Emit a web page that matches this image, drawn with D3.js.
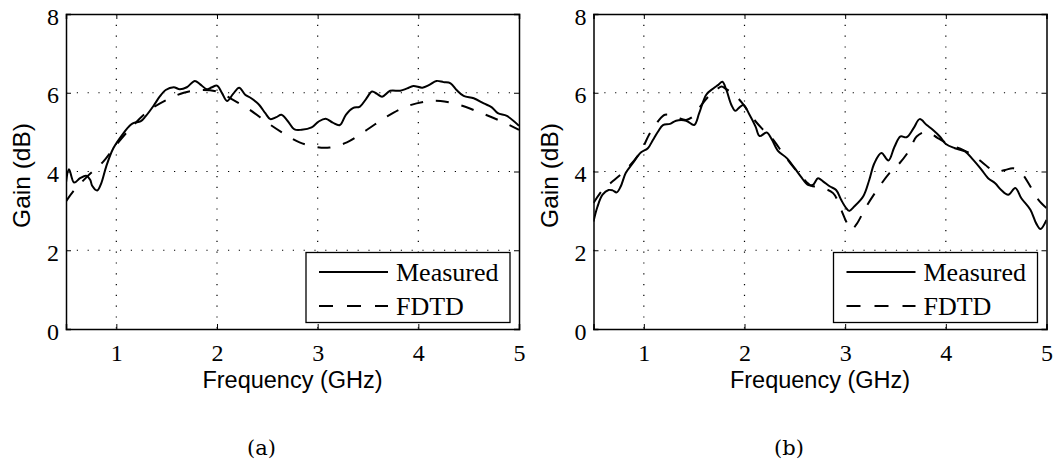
<!DOCTYPE html>
<html>
<head>
<meta charset="utf-8">
<script src="https://cdn.jsdelivr.net/npm/d3@7"></script>
<style>
  body { margin: 0; background: #fff; }
  svg { display: block; }
</style>
</head>
<body>
<div id="chart"></div>
<script>
// ticks
const xTicks = [1, 2, 3, 4, 5]
const yTicks = [0, 2, 4, 6, 8]

// panel (a) measured
const measFreqA = [0.5, 0.53, 0.58, 0.64, 0.70, 0.74, 0.76, 0.81, 0.85, 0.90, 0.97, 1.07, 1.14, 1.18, 1.24, 1.29, 1.37, 1.43, 1.49, 1.57, 1.63, 1.70, 1.78, 1.83, 1.90, 1.95, 2.00, 2.05, 2.10, 2.16, 2.22, 2.28, 2.34, 2.42, 2.48, 2.53, 2.59, 2.64, 2.70, 2.77, 2.84, 2.94, 3.01, 3.08, 3.15, 3.22, 3.28, 3.35, 3.42, 3.48, 3.54, 3.59, 3.64, 3.72, 3.82, 3.89, 3.95, 4.04, 4.11, 4.18, 4.25, 4.32, 4.38, 4.45, 4.55, 4.65, 4.73, 4.79, 4.88, 5.0]
const measGainA = [3.72, 4.06, 3.72, 3.83, 3.89, 3.79, 3.64, 3.52, 3.70, 4.13, 4.59, 4.97, 5.18, 5.24, 5.27, 5.40, 5.67, 5.90, 6.07, 6.14, 6.09, 6.14, 6.30, 6.22, 6.09, 6.14, 6.18, 5.99, 5.79, 5.97, 6.13, 5.95, 5.86, 5.69, 5.48, 5.33, 5.38, 5.44, 5.29, 5.07, 5.06, 5.12, 5.27, 5.34, 5.24, 5.18, 5.44, 5.61, 5.65, 5.84, 6.03, 5.97, 5.90, 6.05, 6.05, 6.11, 6.17, 6.13, 6.20, 6.30, 6.27, 6.24, 6.07, 5.92, 5.86, 5.73, 5.63, 5.48, 5.41, 5.16]

// panel (a) FDTD
const fdtdFreqA = [0.5, 0.57, 0.71, 0.87, 1.0, 1.17, 1.33, 1.5, 1.67, 1.83, 2.0, 2.16, 2.33, 2.5, 2.66, 2.82, 2.99, 3.12, 3.29, 3.49, 3.69, 3.88, 4.08, 4.22, 4.41, 4.61, 4.81, 5.0]
const fdtdGainA = [3.24, 3.49, 3.87, 4.25, 4.68, 5.18, 5.56, 5.82, 6.0, 6.07, 6.03, 5.82, 5.56, 5.24, 4.97, 4.74, 4.62, 4.61, 4.74, 5.06, 5.40, 5.65, 5.78, 5.79, 5.69, 5.50, 5.29, 5.06]

// panel (b) measured
const measFreqB = [0.5, 0.54, 0.59, 0.65, 0.69, 0.73, 0.77, 0.82, 0.89, 0.97, 1.04, 1.09, 1.14, 1.19, 1.26, 1.32, 1.42, 1.50, 1.55, 1.62, 1.69, 1.74, 1.78, 1.82, 1.87, 1.91, 1.95, 1.99, 2.05, 2.11, 2.15, 2.22, 2.27, 2.33, 2.42, 2.50, 2.56, 2.63, 2.68, 2.73, 2.78, 2.85, 2.91, 2.96, 3.01, 3.04, 3.09, 3.18, 3.24, 3.29, 3.36, 3.43, 3.49, 3.55, 3.61, 3.68, 3.74, 3.81, 3.87, 3.94, 4.0, 4.09, 4.19, 4.27, 4.35, 4.42, 4.49, 4.55, 4.62, 4.69, 4.75, 4.84, 4.90, 4.94, 5.0]
const measGainB = [2.73, 3.11, 3.41, 3.53, 3.52, 3.47, 3.62, 3.96, 4.21, 4.48, 4.59, 4.80, 5.01, 5.18, 5.21, 5.29, 5.29, 5.18, 5.48, 5.95, 6.11, 6.20, 6.28, 6.07, 5.69, 5.54, 5.63, 5.69, 5.44, 5.14, 4.90, 4.99, 4.82, 4.53, 4.34, 4.08, 3.87, 3.66, 3.66, 3.83, 3.75, 3.62, 3.53, 3.28, 3.07, 3.00, 3.11, 3.37, 3.79, 4.21, 4.47, 4.28, 4.63, 4.89, 4.87, 5.10, 5.33, 5.18, 5.06, 4.89, 4.70, 4.59, 4.51, 4.30, 4.06, 3.83, 3.70, 3.53, 3.41, 3.58, 3.32, 3.03, 2.67, 2.54, 2.77]

// panel (b) FDTD
const fdtdFreqB = [0.5, 0.59, 0.69, 0.82, 0.96, 1.06, 1.14, 1.21, 1.32, 1.42, 1.49, 1.55, 1.64, 1.72, 1.77, 1.82, 1.90, 1.98, 2.07, 2.17, 2.27, 2.38, 2.48, 2.58, 2.66, 2.75, 2.88, 2.96, 3.01, 3.06, 3.11, 3.21, 3.33, 3.44, 3.54, 3.64, 3.71, 3.81, 3.92, 4.04, 4.17, 4.29, 4.39, 4.49, 4.59, 4.67, 4.75, 4.84, 4.92, 5.0]
const fdtdGainB = [3.20, 3.53, 3.75, 4.04, 4.47, 4.97, 5.27, 5.44, 5.38, 5.31, 5.40, 5.61, 5.90, 6.07, 6.16, 6.09, 5.95, 5.73, 5.40, 5.10, 4.85, 4.47, 4.13, 3.83, 3.64, 3.60, 3.45, 3.03, 2.73, 2.52, 2.65, 3.11, 3.58, 3.96, 4.21, 4.55, 4.89, 5.01, 4.85, 4.68, 4.55, 4.38, 4.17, 4.00, 4.04, 4.08, 3.96, 3.62, 3.28, 3.07]

const seriesNames = ['Measured', 'FDTD']

const width = 1055
const height = 468

const svg = d3.select('#chart')
    .append('svg')
    .attr('width', width)
    .attr('height', height)

function drawPanel(opts){
    const {left, right, top, bottom, letter, measF, measG, fdtdF, fdtdG} = opts

    const xScale = d3.scaleLinear().domain([0.5, 5]).range([left, right])
    const yScale = d3.scaleLinear().domain([0, 8]).range([bottom, top])

    const g = svg.append('g')
    const clipId = 'clip-' + letter
    g.append('clipPath').attr('id', clipId)
        .append('rect')
        .attr('x', left).attr('y', top)
        .attr('width', right - left).attr('height', bottom - top)

    // grid
    const grid = g.append('g')
        .attr('stroke', '#000')
        .attr('stroke-width', 1.2)
        .attr('stroke-dasharray', '1.2,9.6')
    grid.selectAll('.gx')
        .data(xTicks.filter(d => d < 5))
        .join('line')
        .attr('x1', d => xScale(d)).attr('x2', d => xScale(d))
        .attr('y1', top).attr('y2', bottom)
    grid.selectAll('.gy')
        .data(yTicks.filter(d => d > 0 && d < 8))
        .join('line')
        .attr('x1', left).attr('x2', right)
        .attr('y1', d => yScale(d)).attr('y2', d => yScale(d))

    // curves
    const line = d3.line()
        .x(d => xScale(d[0]))
        .y(d => yScale(d[1]))
        .curve(d3.curveCatmullRom.alpha(0.5))

    const curves = g.append('g').attr('clip-path', `url(#${clipId})`)
    curves.append('path')
        .datum(fdtdF.map((f, i) => [f, fdtdG[i]]))
        .attr('d', line)
        .attr('fill', 'none')
        .attr('stroke', '#000')
        .attr('stroke-width', 2)
        .attr('stroke-dasharray', '13,13')
    curves.append('path')
        .datum(measF.map((f, i) => [f, measG[i]]))
        .attr('d', line)
        .attr('fill', 'none')
        .attr('stroke', '#000')
        .attr('stroke-width', 2)

    // axes (box with inward ticks)
    const tickLen = 5
    const axisG = g.append('g')

    const bottomAxis = axisG.append('g')
        .attr('transform', `translate(0,${bottom})`)
        .call(d3.axisBottom(xScale).tickValues(xTicks).tickSize(-tickLen).tickFormat(d3.format('d')))
    const leftAxis = axisG.append('g')
        .attr('transform', `translate(${left},0)`)
        .call(d3.axisLeft(yScale).tickValues(yTicks).tickSize(-tickLen).tickFormat(d3.format('d')))
    axisG.append('g')
        .attr('transform', `translate(0,${top})`)
        .call(d3.axisTop(xScale).tickValues(xTicks).tickSize(-tickLen).tickFormat(''))
    axisG.append('g')
        .attr('transform', `translate(${right},0)`)
        .call(d3.axisRight(yScale).tickValues(yTicks).tickSize(-tickLen).tickFormat(''))

    axisG.selectAll('.domain').attr('stroke', '#000').attr('stroke-width', 1.5)
    axisG.selectAll('.tick line').attr('stroke', '#000').attr('stroke-width', 1)
    axisG.selectAll('.tick text')
        .attr('fill', '#000')
        .attr('font-family', '"Liberation Serif", "Times New Roman", serif')
        .attr('font-size', 24)
    bottomAxis.selectAll('.tick text').attr('dy', null).attr('y', 32)
    leftAxis.selectAll('.tick text').attr('dy', null).attr('x', -7).attr('y', 10)

    // axis labels
    g.append('text')
        .attr('x', (left + right) / 2)
        .attr('y', 388)
        .attr('text-anchor', 'middle')
        .attr('font-family', '"Liberation Sans", Arial, sans-serif')
        .attr('font-size', 23.5)
        .text('Frequency (GHz)')
    g.append('text')
        .attr('transform', `translate(${left - 36},${(top + bottom) / 2 + 4}) rotate(-90)`)
        .attr('text-anchor', 'middle')
        .attr('font-family', '"Liberation Sans", Arial, sans-serif')
        .attr('font-size', 24.5)
        .text('Gain (dB)')

    // legend
    const lx0 = right - 213
    const lx1 = right - 9
    const legend = g.append('g')
    legend.append('rect')
        .attr('x', lx0).attr('y', 252.5)
        .attr('width', lx1 - lx0).attr('height', 70)
        .attr('fill', '#fff')
        .attr('stroke', '#000')
        .attr('stroke-width', 1.3)
    const rows = [272, 306]
    seriesNames.forEach((name, i) => {
        legend.append('line')
            .attr('x1', lx0 + 13).attr('x2', lx0 + 82)
            .attr('y1', rows[i]).attr('y2', rows[i])
            .attr('stroke', '#000')
            .attr('stroke-width', 2)
            .attr('stroke-dasharray', i === 1 ? '14,14' : null)
        legend.append('text')
            .attr('x', lx0 + 90)
            .attr('y', rows[i] + 9)
            .attr('font-family', '"Liberation Serif", "Times New Roman", serif')
            .attr('font-size', 26)
            .text(name)
    })

    // panel letter
    g.append('text')
        .attr('x', (left + right) / 2 - 31)
        .attr('y', 455)
        .attr('text-anchor', 'middle')
        .attr('font-family', '"DejaVu Serif", serif')
        .attr('font-size', 21)
        .text(`(${letter})`)
}

drawPanel({left: 66, right: 519, top: 14, bottom: 329, letter: 'a',
    measF: measFreqA, measG: measGainA, fdtdF: fdtdFreqA, fdtdG: fdtdGainA})
drawPanel({left: 593.5, right: 1046.5, top: 14, bottom: 329, letter: 'b',
    measF: measFreqB, measG: measGainB, fdtdF: fdtdFreqB, fdtdG: fdtdGainB})
</script>
</body>
</html>
